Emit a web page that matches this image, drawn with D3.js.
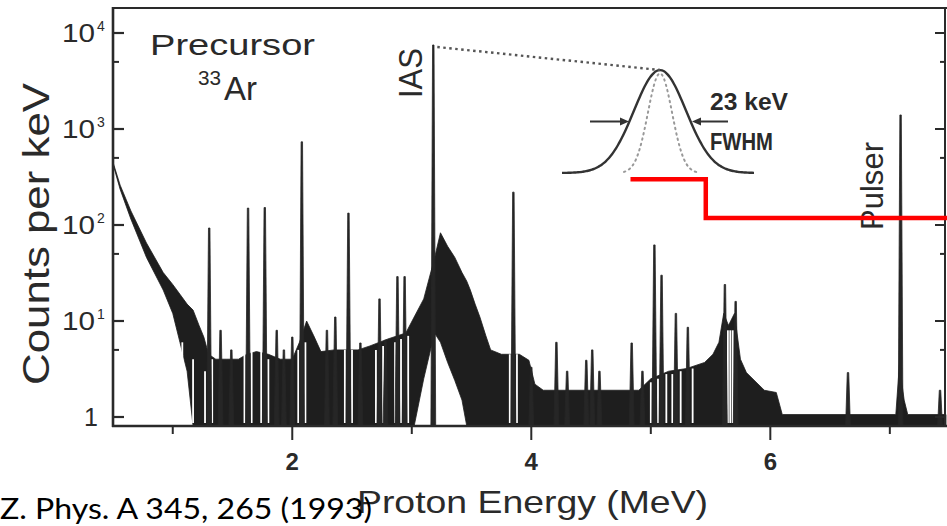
<!DOCTYPE html>
<html>
<head>
<meta charset="utf-8">
<script src="https://cdn.jsdelivr.net/npm/d3@7"></script>
<style>
body { margin:0; background:#fff; }
svg { display:block; }
</style>
</head>
<body>
<div id="chart"></div>
<script>

// spectrum: proton energy in MeV, counts per keV
// envelope of the dense histogram (lo = 0 means it reaches the axis)
var bandE  = [0.50,0.56,0.65,0.78,0.92,1.00,1.06,1.12,1.17,1.22,1.26,1.30,1.36,1.45,1.55,1.62,1.70,1.80,1.90,2.00,2.06,2.12,2.18,2.24,2.35,2.45,2.55,2.65,2.80,2.95,3.02,3.10,3.19,3.24,3.30,3.36,3.42,3.46,3.49,3.53,3.57,3.62,3.66,3.75,3.90,3.98,4.03,4.10,4.50,4.90,5.00,5.15,5.30,5.45,5.52,5.57,5.61,5.65,5.70,5.75,5.80,5.95,6.05,6.10,7.05,7.08,7.12,7.15,7.47];
var bandHi = [450,260,140,65,32,24,19,15,13,9,6.8,4.5,4,4,4,4.5,4.8,4.5,4,4,6,10,7,4.8,5,5,5,5.5,6.5,7.5,11,17,45,83,60,46,32,26,21,15,11,7,5,4.5,4.5,3.9,2.2,1.9,1.9,1.9,2.5,3,3.2,3.7,4.5,6,12,9,12,4,2.9,1.9,1.8,1.06,1.06,3.5,1.5,1.06,1.06];
var bandLo = [430,235,115,46,21,12,6,3,0,0,0,0,0,0,0,0,0,0,0,0,0,0,0,0,0,0,0,0,0,0,0,2.5,7.5,6,3.7,2.4,1.5,0,0,0,0,0,0,0,0,0,0,0,0,0,0,0,0,0,0,0,0,0,0,0,0,0,0,0,0,0,0,0,0];

// resolved lines
var peakE      = [1.305,1.40,1.49,1.63,1.77,1.87,1.93,2.00,2.08,2.29,2.36,2.47,2.57,2.73,2.78,2.88,2.94,3.18,3.85,4.00,4.21,4.30,4.46,4.51,4.57,4.84,4.93,5.03,5.09,5.21,5.31,5.62,5.71,6.65,7.09,7.42];
var peakCounts = [93,8,5,150,152,8,5,6.8,735,8,11,133,5.9,17,6.3,29,29,7500,220,3.3,6,3,3.9,5,3,5.9,3,62,30,12,8.6,24,16,2.9,1400,1.9];

// empty channels showing as white strips
var gapE   = [1.08,1.17,1.27,1.33,1.60,1.66,1.74,1.80,2.05,2.11,2.44,2.50,2.70,2.76,2.86,2.91,2.97,3.82,3.88,5.00,5.06,5.13,5.18,5.25,5.35,5.645,5.665,5.685];
var gapTop = [6,4,3,4,4.5,5,5,4,5,6,5,5,5,5.5,6,6.5,7,4.5,4.5,2.3,2.5,2.8,2.8,3,3.2,8,8,8];

var xTicks      = [1,2,3,4,5,6,7];
var xLabelTicks = [2,4,6];
var xTickLabels = ["2","4","6"];
var yTicks      = [1,10,100,1000,10000];
var yTickBase   = ["1","10","10","10","10"];
var yTickExp    = ["","1","2","3","4"];
var yMinor      = [5,50,500,5000];

// red step drawn over the figure
var stepE      = [4.83,5.46,5.46,7.5];
var stepCounts = [300,300,118,118];


function SpectrumPlot(divId)
{
	this.m_divId = divId;
	var width  = 947;
	var height = 526;

	this.svg = d3.select(divId)
		.append("svg")
		.attr("width", width)
		.attr("height", height);

	// 96 px per decade, 1 count at y=417
	this.x = d3.scaleLinear().domain([0.5, 7.47]).range([113, 946]);
	this.y = d3.scaleLog().domain([Math.pow(10, -9/96), Math.pow(10, 409/96)]).range([426, 8]);
}


SpectrumPlot.prototype.draw = function()
{
	var svg = this.svg, x = this.x, y = this.y;
	var ink = "#2a2a2a";
	var font = "Liberation Sans, Arial, sans-serif";
	var yBottom = y.range()[0];

	var band = [];
	for (var i = 0; i < bandE.length; i++) band.push({e: bandE[i], hi: bandHi[i], lo: bandLo[i]});

	var area = d3.area()
		.x(function(d){ return x(d.e); })
		.y0(function(d){ return d.lo > 0 ? y(d.lo) : yBottom; })
		.y1(function(d){ return y(d.hi); });

	svg.append("path")
		.attr("d", area(band))
		.attr("fill", "#1e1e1e")
		.attr("stroke", "#1e1e1e")
		.attr("stroke-width", 0.8);

	// white strips
	for (i = 0; i < gapE.length; i++) {
		svg.append("line")
			.attr("x1", x(gapE[i])).attr("x2", x(gapE[i]))
			.attr("y1", yBottom - 3).attr("y2", y(gapTop[i]))
			.attr("stroke", "#fff")
			.attr("stroke-width", 1.8);
	}

	// peaks: thin spikes, a bit wider at the foot
	var spike = d3.line().x(function(d){ return x(d[0]); }).y(function(d){ return d[1]; });
	for (i = 0; i < peakE.length; i++) {
		var e = peakE[i], top = y(peakCounts[i]);
		svg.append("path")
			.attr("d", spike([[e-0.02, yBottom], [e-0.006, top], [e+0.006, top], [e+0.02, yBottom]]) + "Z")
			.attr("fill", "#262626")
			.attr("stroke", "#262626")
			.attr("stroke-width", 0.8);
	}

	// frame
	var x0 = x.range()[0], x1 = 945;
	svg.append("line").attr("x1", x0).attr("x2", 947).attr("y1", 8).attr("y2", 8)
		.attr("stroke", ink).attr("stroke-width", 2.2);
	svg.append("line").attr("x1", x0).attr("x2", x0).attr("y1", 7).attr("y2", yBottom + 1)
		.attr("stroke", ink).attr("stroke-width", 2.6);
	svg.append("line").attr("x1", x0 - 1).attr("x2", 947).attr("y1", yBottom).attr("y2", yBottom)
		.attr("stroke", ink).attr("stroke-width", 2.6);
	svg.append("line").attr("x1", x1).attr("x2", x1).attr("y1", 8).attr("y2", yBottom)
		.attr("stroke", ink).attr("stroke-width", 2);

	// y ticks, inward on both sides
	for (i = 0; i < yTicks.length; i++) {
		svg.append("line").attr("x1", x0).attr("x2", x0 + 11)
			.attr("y1", y(yTicks[i])).attr("y2", y(yTicks[i]))
			.attr("stroke", ink).attr("stroke-width", 2.2);
		svg.append("line").attr("x1", x1).attr("x2", x1 - 10)
			.attr("y1", y(yTicks[i])).attr("y2", y(yTicks[i]))
			.attr("stroke", ink).attr("stroke-width", 2);
		var lab = svg.append("text")
			.attr("x", yTickExp[i] ? 62 : 84)
			.attr("y", y(yTicks[i]) + 9)
			.attr("font-family", font)
			.attr("font-size", 25)
			.attr("fill", ink)
			.text(yTickBase[i]);
		if (yTickExp[i]) {
			lab.attr("textLength", 33).attr("lengthAdjust", "spacingAndGlyphs");
			svg.append("text")
				.attr("x", 97).attr("y", y(yTicks[i]) - 2)
				.attr("font-family", font)
				.attr("font-size", 14)
				.attr("fill", ink)
				.text(yTickExp[i]);
		}
	}
	for (i = 0; i < yMinor.length; i++) {
		svg.append("line").attr("x1", x0).attr("x2", x0 + 6)
			.attr("y1", y(yMinor[i])).attr("y2", y(yMinor[i]))
			.attr("stroke", ink).attr("stroke-width", 2);
		svg.append("line").attr("x1", x1).attr("x2", x1 - 5)
			.attr("y1", y(yMinor[i])).attr("y2", y(yMinor[i]))
			.attr("stroke", ink).attr("stroke-width", 2);
	}

	// x ticks, outward
	for (i = 0; i < xTicks.length; i++) {
		var major = xLabelTicks.indexOf(xTicks[i]) >= 0;
		svg.append("line")
			.attr("x1", x(xTicks[i])).attr("x2", x(xTicks[i]))
			.attr("y1", yBottom).attr("y2", yBottom + (major ? 14 : 8))
			.attr("stroke", ink).attr("stroke-width", 2);
	}
	for (i = 0; i < xLabelTicks.length; i++) {
		svg.append("text")
			.attr("x", x(xLabelTicks[i])).attr("y", 470)
			.attr("text-anchor", "middle")
			.attr("font-family", font)
			.attr("font-weight", "bold")
			.attr("font-size", 24)
			.attr("fill", ink)
			.text(xTickLabels[i]);
	}

	// axis titles
	svg.append("text")
		.attr("transform", "translate(49,385) rotate(-90)")
		.attr("font-family", font)
		.attr("font-size", 37)
		.attr("textLength", 302).attr("lengthAdjust", "spacingAndGlyphs")
		.attr("fill", ink)
		.text("Counts per keV");

	svg.append("text")
		.attr("x", 357).attr("y", 513)
		.attr("font-family", font)
		.attr("font-size", 32)
		.attr("textLength", 351).attr("lengthAdjust", "spacingAndGlyphs")
		.attr("fill", ink)
		.text("Proton Energy (MeV)");

	svg.append("text")
		.attr("x", 0).attr("y", 519)
		.attr("font-family", "Lato, 'Open Sans', sans-serif")
		.attr("font-size", 29)
		.attr("textLength", 372).attr("lengthAdjust", "spacingAndGlyphs")
		.attr("fill", "#000")
		.text("Z. Phys. A 345, 265 (1993)");

	// labels inside the frame
	svg.append("text")
		.attr("x", 150).attr("y", 55)
		.attr("font-family", font)
		.attr("font-size", 30)
		.attr("textLength", 165).attr("lengthAdjust", "spacingAndGlyphs")
		.attr("fill", ink)
		.text("Precursor");
	svg.append("text")
		.attr("x", 198).attr("y", 85)
		.attr("font-family", font)
		.attr("font-size", 20)
		.attr("textLength", 23).attr("lengthAdjust", "spacingAndGlyphs")
		.attr("fill", ink)
		.text("33");
	svg.append("text")
		.attr("x", 224).attr("y", 100)
		.attr("font-family", font)
		.attr("font-size", 33)
		.attr("fill", ink)
		.text("Ar");

	svg.append("text")
		.attr("transform", "translate(422,98) rotate(-90)")
		.attr("font-family", font)
		.attr("font-size", 33)
		.attr("textLength", 50).attr("lengthAdjust", "spacingAndGlyphs")
		.attr("fill", ink)
		.text("IAS");

	svg.append("text")
		.attr("transform", "translate(883,230) rotate(-90)")
		.attr("font-family", font)
		.attr("font-size", 31)
		.attr("textLength", 88).attr("lengthAdjust", "spacingAndGlyphs")
		.attr("fill", ink)
		.text("Pulser");

	// inset: line shape of the IAS, 23 keV FWHM
	var gx = 660, gTop = 70, gBase = 173;
	var solid = [], dots = [];
	for (var px = 562; px <= 755; px += 2) {
		solid.push([px, gBase - (gBase - gTop) * Math.exp(-Math.pow((px - gx) / 26, 2) / 2)]);
	}
	for (px = 624; px <= 698; px += 2) {
		dots.push([px, gBase - (gBase - gTop - 3) * Math.exp(-Math.pow((px - gx) / 12, 2) / 2)]);
	}
	var pl = d3.line().curve(d3.curveBasis);
	svg.append("path").attr("d", pl(solid)).attr("fill", "none")
		.attr("stroke", "#333").attr("stroke-width", 2.4);
	svg.append("path").attr("d", pl(dots)).attr("fill", "none")
		.attr("stroke", "#999").attr("stroke-width", 2)
		.attr("stroke-dasharray", "1.5,4").attr("stroke-linecap", "round");

	svg.append("line")
		.attr("x1", x(3.18) + 4).attr("y1", y(7500) + 2)
		.attr("x2", gx).attr("y2", gTop)
		.attr("stroke", "#555").attr("stroke-width", 2.4)
		.attr("stroke-dasharray", "2.5,3.5");

	var arrowY = (gTop + gBase) / 2;
	svg.append("line").attr("x1", 590).attr("x2", 622).attr("y1", arrowY).attr("y2", arrowY)
		.attr("stroke", "#333").attr("stroke-width", 2);
	svg.append("path").attr("d", "M629," + arrowY + " l-9,-4 l0,8 Z").attr("fill", "#333");
	svg.append("line").attr("x1", 699).attr("x2", 728).attr("y1", arrowY).attr("y2", arrowY)
		.attr("stroke", "#333").attr("stroke-width", 2);
	svg.append("path").attr("d", "M692," + arrowY + " l9,-4 l0,8 Z").attr("fill", "#333");

	svg.append("text")
		.attr("x", 710).attr("y", 110)
		.attr("font-family", font)
		.attr("font-weight", "bold")
		.attr("font-size", 24)
		.attr("textLength", 78).attr("lengthAdjust", "spacingAndGlyphs")
		.attr("fill", ink)
		.text("23  keV");
	svg.append("text")
		.attr("x", 710).attr("y", 150)
		.attr("font-family", font)
		.attr("font-weight", "bold")
		.attr("font-size", 23)
		.attr("textLength", 63).attr("lengthAdjust", "spacingAndGlyphs")
		.attr("fill", ink)
		.text("FWHM");

	// red step
	var stepPts = [];
	for (i = 0; i < stepE.length; i++) stepPts.push([x(stepE[i]), y(stepCounts[i])]);
	svg.append("path")
		.attr("d", d3.line()(stepPts))
		.attr("fill", "none")
		.attr("stroke", "#ff0000")
		.attr("stroke-width", 4.5);
};

var plot = new SpectrumPlot("#chart");
plot.draw();

</script>
</body>
</html>
